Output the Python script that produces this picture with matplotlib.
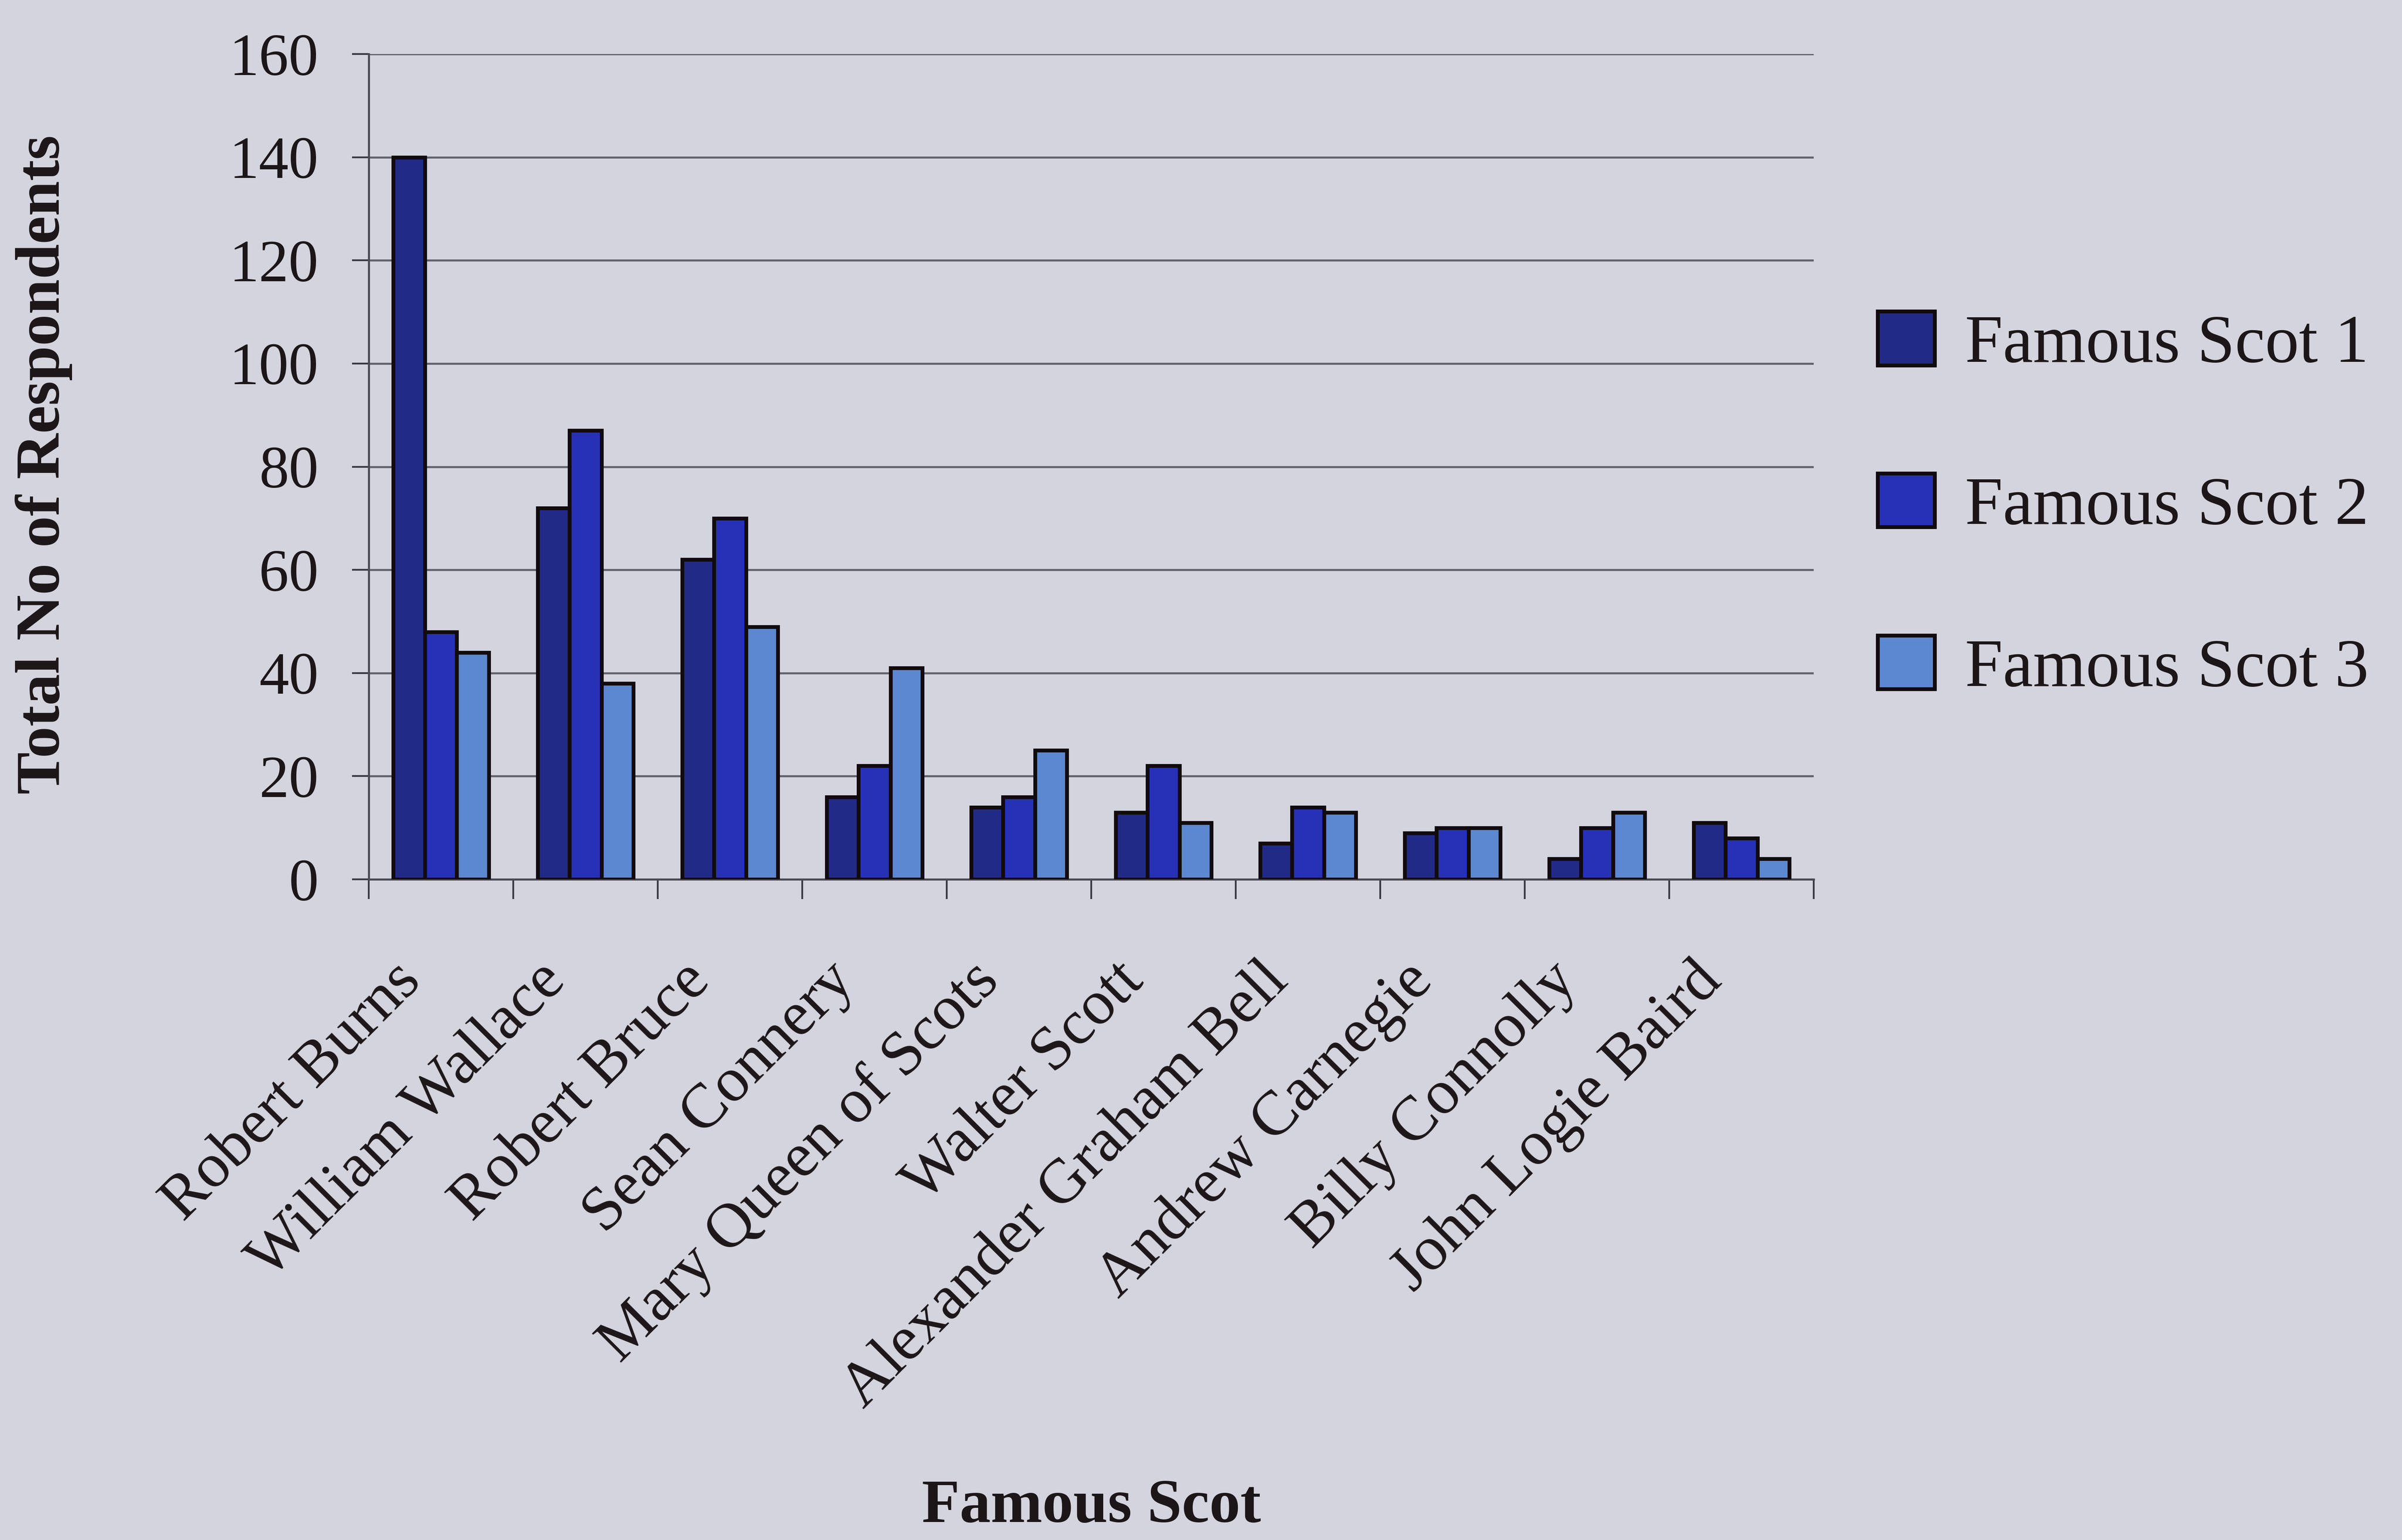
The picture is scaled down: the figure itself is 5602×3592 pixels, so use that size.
import numpy as np
import matplotlib.pyplot as plt

scots = ["Robert Burns", "William Wallace", "Robert Bruce", "Sean Connery",
         "Mary Queen of Scots", "Walter Scott", "Alexander Graham Bell",
         "Andrew Carnegie", "Billy Connolly", "John Logie Baird"]
scot_1 = [140, 72, 62, 16, 14, 13, 7, 9, 4, 11]
scot_2 = [48, 87, 70, 22, 16, 22, 14, 10, 10, 8]
scot_3 = [44, 38, 49, 41, 25, 11, 13, 10, 13, 4]
series_names = ["Famous Scot 1", "Famous Scot 2", "Famous Scot 3"]
y_ticks = [0, 20, 40, 60, 80, 100, 120, 140, 160]

bg = "#d4d4de"
ink = "#1c1618"
colours = ["#222a88", "#2631b8", "#5b88d0"]

plt.rcParams["font.family"] = ["Liberation Serif", "DejaVu Serif"]

fig = plt.figure(figsize=(28.01, 17.96), dpi=200, facecolor=bg)
ax = fig.add_axes([0.1535, 0.4290, 0.6016, 0.5359])
ax.set_facecolor(bg)

x = np.arange(len(scots))
w = 0.22
for k, vals in enumerate([scot_1, scot_2, scot_3]):
    ax.bar(x + (k - 1) * w, vals, width=w, color=colours[k],
           edgecolor="#120b0e", linewidth=3.2, label=series_names[k], zorder=3)

ax.set_xlim(-0.5, len(scots) - 0.5)
ax.set_ylim(0, 160)
ax.set_yticks(y_ticks)
ax.set_yticklabels([str(v) for v in y_ticks], fontsize=50, color=ink)
ax.yaxis.grid(True, color="#62626e", linewidth=1.7, zorder=0)
ax.set_axisbelow(True)

# slanted names hang a little left of each group; boundary ticks are minor
ax.set_xticks(x - 0.2)
ax.set_xticklabels(scots, rotation=45, ha="right", va="center",
                   rotation_mode="anchor", fontsize=53, color=ink)
ax.set_xticks(np.arange(len(scots) + 1) - 0.5, minor=True)
ax.tick_params(axis="x", which="major", length=0, pad=78)
ax.tick_params(axis="x", which="minor", length=16.5, width=1.5, color="#3a3a44")
ax.tick_params(axis="y", length=14, width=1.5, color="#3a3a44", pad=28)

for side in ["top", "right"]:
    ax.spines[side].set_visible(False)
for side in ["left", "bottom"]:
    ax.spines[side].set_color("#4a4a54")
    ax.spines[side].set_linewidth(1.7)

fig.text(0.0182, 0.6985, "Total No of Respondents", rotation=90,
         ha="center", va="center", fontsize=53, fontweight="bold", color=ink)
fig.text(0.4543, 0.0214, "Famous Scot", ha="center", va="center",
         fontsize=52, fontweight="bold", color=ink)

leg = ax.legend(loc="center left", bbox_to_anchor=(0.7817, 0.6715),
                bbox_transform=fig.transFigure, frameon=False, fontsize=57,
                handlelength=0.84, handleheight=0.84, handletextpad=0.45,
                labelspacing=1.43, borderpad=0, borderaxespad=0)
for t in leg.get_texts():
    t.set_color(ink)

fig.savefig("out.png", dpi=200, facecolor=bg)
